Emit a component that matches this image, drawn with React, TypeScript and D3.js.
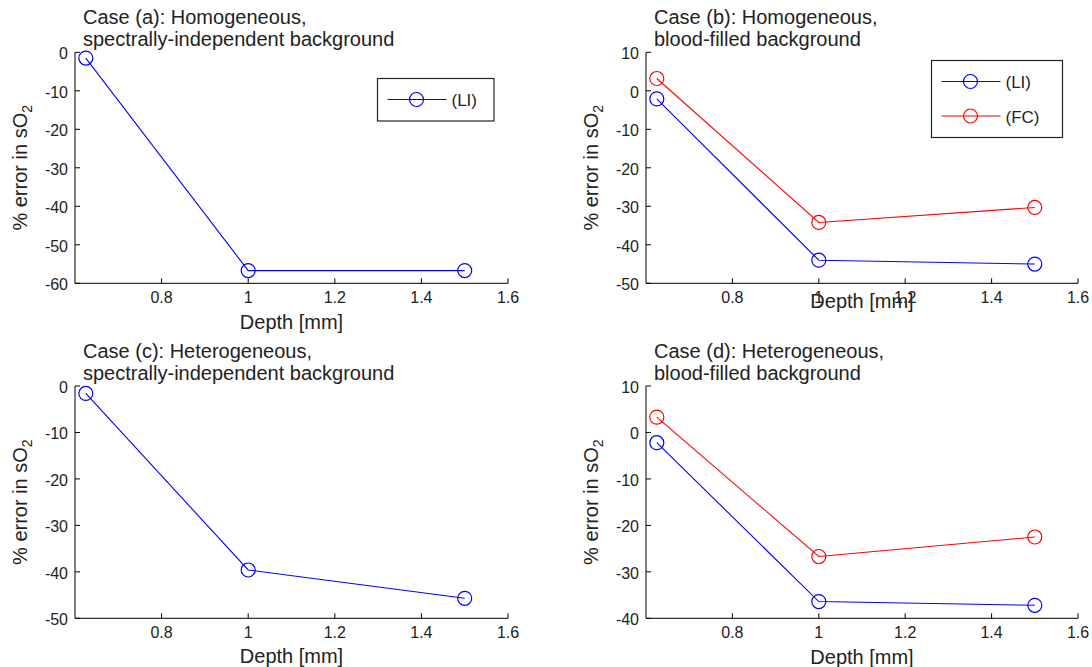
import React from "react";
import { scaleLinear, line, range } from "d3";

// depth of each measurement [mm]
const depths = [0.625, 1, 1.5];

// % error in sO2
const caseA_LI = [-1.5, -56.7, -56.7];
const caseB_LI = [-2.1, -44.0, -45.0];
const caseB_FC = [3.2, -34.2, -30.3];
const caseC_LI = [-1.6, -39.6, -45.7];
const caseD_LI = [-2.2, -36.4, -37.2];
const caseD_FC = [3.3, -26.7, -22.5];

const xTicks = [0.8, 1, 1.2, 1.4, 1.6];

const titleA = ["Case (a): Homogeneous,", "spectrally-independent background"];
const titleB = ["Case (b): Homogeneous,", "blood-filled background"];
const titleC = ["Case (c): Heterogeneous,", "spectrally-independent background"];
const titleD = ["Case (d): Heterogeneous,", "blood-filled background"];

const BLUE = "#0000ff";
const RED = "#ff0000";
const INK = "#222";
const FONT = "'Liberation Sans', Arial, Helvetica, sans-serif";

type Series = { name: string; values: number[]; color: string };

type PanelProps = {
    left: number;
    top: number;
    width: number;
    height: number;
    yDomain: [number, number];
    title: string[];
    series: Series[];
    xLabelOffset: number;
    legend?: { x: number; y: number; w: number };
};

function Panel(props: PanelProps) {
    const { left, top, width, height, yDomain, title, series, xLabelOffset, legend } = props;
    const x = scaleLinear().domain([0.6, 1.6]).range([left, left + width]);
    const y = scaleLinear().domain(yDomain).range([top + height, top]);
    const yTicks = range(yDomain[0], yDomain[1] + 1, 10);
    const bottom = top + height;

    const path = line<number>()
        .x((d, i) => x(depths[i]))
        .y((d) => y(d));

    const rowGap = 34.5;

    return (
        <g fontFamily={FONT}>
            {/* title */}
            <text x={left + 8} y={top - 28} fontSize={20} fill={INK}>
                {title[0]}
            </text>
            <text x={left + 8} y={top - 6} fontSize={20} fill={INK}>
                {title[1]}
            </text>

            {/* axes */}
            <line x1={left} x2={left} y1={top} y2={bottom} stroke="#000" strokeWidth={1} />
            <line x1={left} x2={left + width} y1={bottom} y2={bottom} stroke="#000" strokeWidth={1} />

            {yTicks.map((t) => (
                <g key={"y" + t}>
                    <line x1={left} x2={left + 5} y1={y(t)} y2={y(t)} stroke="#000" />
                    <text
                        x={left - 7}
                        y={y(t)}
                        dy="0.42em"
                        textAnchor="end"
                        fontSize={16}
                        fill={INK}
                    >
                        {t}
                    </text>
                </g>
            ))}

            {xTicks.map((t) => (
                <g key={"x" + t}>
                    <line x1={x(t)} x2={x(t)} y1={bottom} y2={bottom - 5} stroke="#000" />
                    <text x={x(t)} y={bottom + 20} textAnchor="middle" fontSize={16} fill={INK}>
                        {t}
                    </text>
                </g>
            ))}

            {/* axis labels */}
            <text
                x={left + width / 2}
                y={bottom + xLabelOffset}
                textAnchor="middle"
                fontSize={20}
                fill={INK}
            >
                Depth [mm]
            </text>
            <text
                transform={`translate(${left - 48},${top + height / 2}) rotate(-90)`}
                textAnchor="middle"
                fontSize={20}
                fill={INK}
            >
                % error in sO
                <tspan fontSize={14} dy={5}>
                    2
                </tspan>
            </text>

            {/* data */}
            {series.map((s) => (
                <g key={s.name}>
                    <path d={path(s.values) || ""} fill="none" stroke={s.color} strokeWidth={1.1} />
                    {s.values.map((v, i) => (
                        <circle
                            key={i}
                            cx={x(depths[i])}
                            cy={y(v)}
                            r={7}
                            fill="none"
                            stroke={s.color}
                            strokeWidth={1.2}
                        />
                    ))}
                </g>
            ))}

            {/* legend */}
            {legend && (
                <g>
                    <rect
                        x={legend.x}
                        y={legend.y}
                        width={legend.w}
                        height={8 + series.length * rowGap}
                        fill="#fff"
                        stroke="#222"
                        strokeWidth={1.2}
                    />
                    {series.map((s, i) => {
                        const ry = legend.y + 21 + i * rowGap;
                        return (
                            <g key={s.name}>
                                <line
                                    x1={legend.x + 10}
                                    x2={legend.x + 69}
                                    y1={ry}
                                    y2={ry}
                                    stroke={s.color}
                                    strokeWidth={1.1}
                                />
                                <circle
                                    cx={legend.x + 39}
                                    cy={ry}
                                    r={7}
                                    fill="none"
                                    stroke={s.color}
                                    strokeWidth={1.2}
                                />
                                <text x={legend.x + 74} y={ry + 6.5} fontSize={17} fill={INK}>
                                    {s.name}
                                </text>
                            </g>
                        );
                    })}
                </g>
            )}
        </g>
    );
}

export default function App() {
    return (
        <svg
            width={1092}
            height={667}
            style={{ position: "absolute", left: 0, top: 0, background: "#fff" }}
        >
            <rect width={1092} height={667} fill="#fff" />
            <Panel
                left={75}
                top={52.3}
                width={433}
                height={231}
                yDomain={[-60, 0]}
                title={titleA}
                series={[{ name: "(LI)", values: caseA_LI, color: BLUE }]}
                xLabelOffset={46}
                legend={{ x: 377.5, y: 78.5, w: 116.5 }}
            />
            <Panel
                left={646}
                top={52.3}
                width={432}
                height={231}
                yDomain={[-50, 10]}
                title={titleB}
                series={[
                    { name: "(LI)", values: caseB_LI, color: BLUE },
                    { name: "(FC)", values: caseB_FC, color: RED },
                ]}
                xLabelOffset={25}
                legend={{ x: 931.5, y: 60.5, w: 131 }}
            />
            <Panel
                left={75}
                top={386}
                width={433}
                height={232.3}
                yDomain={[-50, 0]}
                title={titleC}
                series={[{ name: "(LI)", values: caseC_LI, color: BLUE }]}
                xLabelOffset={45}
            />
            <Panel
                left={646}
                top={386}
                width={432}
                height={232.3}
                yDomain={[-40, 10]}
                title={titleD}
                series={[
                    { name: "(LI)", values: caseD_LI, color: BLUE },
                    { name: "(FC)", values: caseD_FC, color: RED },
                ]}
                xLabelOffset={46}
            />
        </svg>
    );
}
